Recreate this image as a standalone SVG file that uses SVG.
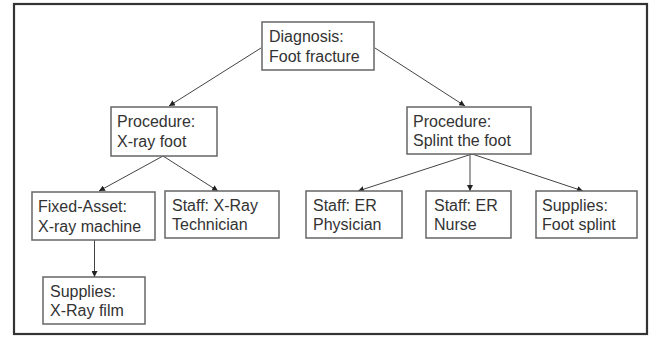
<svg xmlns="http://www.w3.org/2000/svg" width="654" height="337" viewBox="0 0 654 337">
<style>
.box{fill:#fff;stroke:#666;stroke-width:1.5}
.t{font-family:"Liberation Sans",Arial,sans-serif;font-size:16px;fill:#333}
.c{stroke:#444;stroke-width:1;fill:none;marker-end:url(#ah)}
</style>
<defs>
<marker id="ah" viewBox="0 0 10 10" refX="10" refY="5" markerWidth="6" markerHeight="6" markerUnits="userSpaceOnUse" orient="auto">
<path d="M0,0 L10,5 L0,10 z" fill="#222"/>
</marker>
</defs>
<rect x="0" y="0" width="654" height="337" fill="#fff"/>
<rect x="14" y="4" width="633" height="330" fill="#fff" stroke="#333" stroke-width="2.2"/>
<g id="connectors">
<line class="c" x1="261" y1="48" x2="169" y2="106"/>
<line class="c" x1="375" y1="48" x2="465" y2="106"/>
<line class="c" x1="163" y1="156" x2="99" y2="191"/>
<line class="c" x1="163" y1="156" x2="218" y2="191"/>
<line class="c" x1="472" y1="154" x2="358" y2="191"/>
<line class="c" x1="470" y1="154" x2="470" y2="191"/>
<line class="c" x1="472" y1="154" x2="583" y2="191"/>
<line class="c" x1="94.5" y1="240" x2="94.5" y2="277"/>
</g>
<g id="diagnosis">
<rect class="box" x="262" y="22" width="112" height="48"/>
<text class="t" x="269" y="42">Diagnosis:</text>
<text class="t" x="269" y="62">Foot fracture</text>
</g>
<g id="proc-xray">
<rect class="box" x="111" y="107" width="106" height="49"/>
<text class="t" x="117" y="127">Procedure:</text>
<text class="t" x="117" y="147">X-ray foot</text>
</g>
<g id="proc-splint">
<rect class="box" x="407" y="107" width="124" height="47"/>
<text class="t" x="413" y="127">Procedure:</text>
<text class="t" x="413" y="146">Splint the foot</text>
</g>
<g id="fixed-asset">
<rect class="box" x="32" y="192" width="123" height="48"/>
<text class="t" x="38" y="212">Fixed-Asset:</text>
<text class="t" x="38" y="232">X-ray machine</text>
</g>
<g id="staff-xray">
<rect class="box" x="165" y="191" width="114" height="47"/>
<text class="t" x="172" y="211">Staff: X-Ray</text>
<text class="t" x="172" y="230">Technician</text>
</g>
<g id="staff-physician">
<rect class="box" x="306" y="191" width="96" height="47"/>
<text class="t" x="313" y="211">Staff: ER</text>
<text class="t" x="313" y="230">Physician</text>
</g>
<g id="staff-nurse">
<rect class="box" x="426" y="191" width="85" height="47"/>
<text class="t" x="434" y="211">Staff: ER</text>
<text class="t" x="434" y="230">Nurse</text>
</g>
<g id="supplies-splint">
<rect class="box" x="536" y="191" width="101" height="47"/>
<text class="t" x="542" y="211">Supplies:</text>
<text class="t" x="542" y="230">Foot splint</text>
</g>
<g id="supplies-film">
<rect class="box" x="43" y="277" width="102" height="47"/>
<text class="t" x="50" y="297">Supplies:</text>
<text class="t" x="50" y="316">X-Ray film</text>
</g>
</svg>
